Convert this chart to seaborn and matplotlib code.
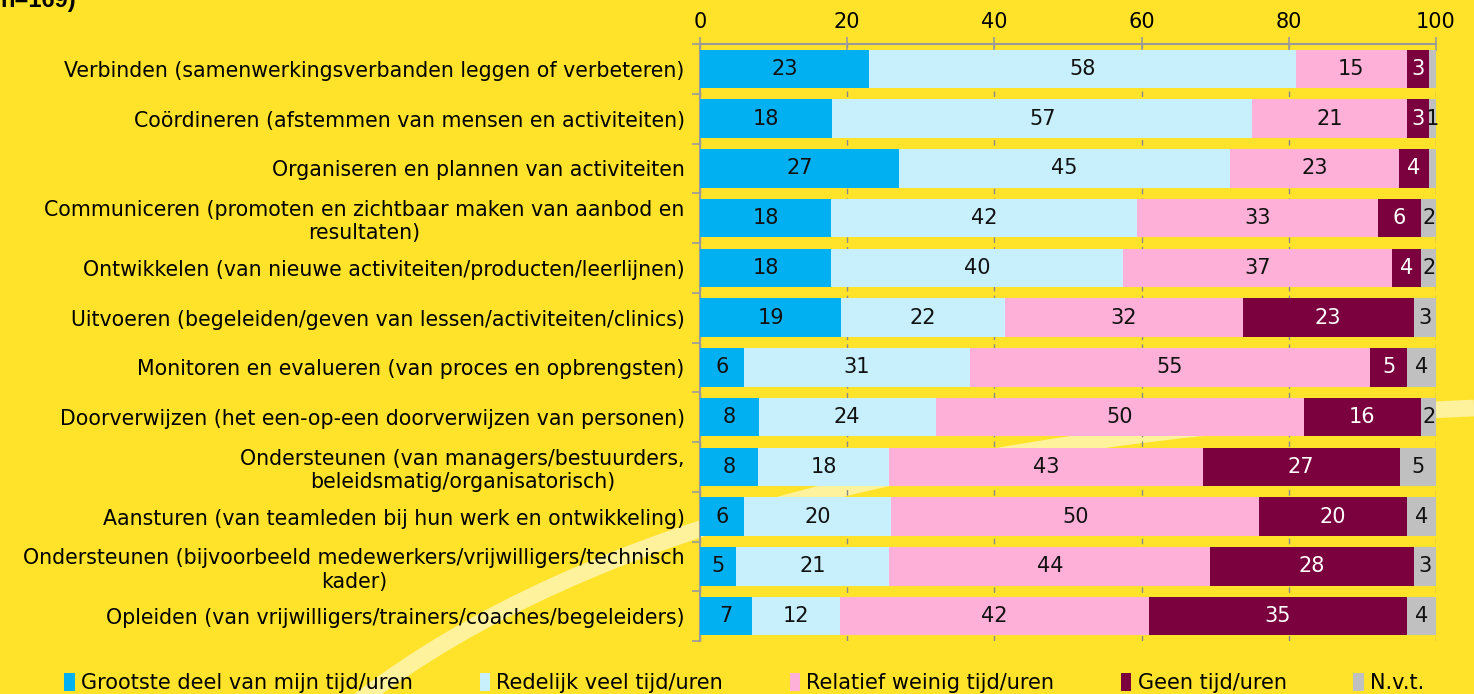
import numpy as np
import pandas as pd
import seaborn as sns
import matplotlib.pyplot as plt
from matplotlib.path import Path
from matplotlib.patches import PathPatch, Patch

# categorieen (van boven naar beneden)
taken = [
    "Verbinden (samenwerkingsverbanden leggen of verbeteren)",
    "Coördineren (afstemmen van mensen en activiteiten)",
    "Organiseren en plannen van activiteiten",
    "Communiceren (promoten en zichtbaar maken van aanbod en\nresultaten)",
    "Ontwikkelen (van nieuwe activiteiten/producten/leerlijnen)",
    "Uitvoeren (begeleiden/geven van lessen/activiteiten/clinics)",
    "Monitoren en evalueren (van proces en opbrengsten)",
    "Doorverwijzen (het een-op-een doorverwijzen van personen)",
    "Ondersteunen (van managers/bestuurders,\nbeleidsmatig/organisatorisch)",
    "Aansturen (van teamleden bij hun werk en ontwikkeling)",
    "Ondersteunen (bijvoorbeeld medewerkers/vrijwilligers/technisch\nkader)",
    "Opleiden (van vrijwilligers/trainers/coaches/begeleiders)",
]

grootste = [23, 18, 27, 18, 18, 19, 6, 8, 8, 6, 5, 7]
redelijk = [58, 57, 45, 42, 40, 22, 31, 24, 18, 20, 21, 12]
weinig = [15, 21, 23, 33, 37, 32, 55, 50, 43, 50, 44, 42]
geen = [3, 3, 4, 6, 4, 23, 5, 16, 27, 20, 28, 35]
nvt = [1, 1, 1, 2, 2, 3, 4, 2, 5, 4, 3, 4]
nvt_label = ["", "1", "", "2", "2", "3", "4", "2", "5", "4", "3", "4"]

reeksen = ["Grootste deel van mijn tijd/uren", "Redelijk veel tijd/uren",
           "Relatief weinig tijd/uren", "Geen tijd/uren", "N.v.t."]
kleuren = ["#00B0F0", "#C8EFFC", "#FFB0D9", "#7A003E", "#C0C0C0"]
tekstkleur = ["#111111", "#111111", "#111111", "white", "#111111"]

geel = "#FFE32B"

df = pd.DataFrame({"taak": taken, reeksen[0]: grootste, reeksen[1]: redelijk,
                   reeksen[2]: weinig, reeksen[3]: geen, reeksen[4]: nvt})
waarden = df[reeksen].astype(float)
# afgeronde percentages, per rij herschaald naar 100
waarden = waarden.div(waarden.sum(axis=1), axis=0) * 100
cum = waarden.cumsum(axis=1)

fig = plt.figure(figsize=(14.74, 6.94), dpi=100, facecolor=geel)

# lichte zwaai op de achtergrond
P0 = (360 / 1474, 1 - 700 / 694)
P1 = (700 / 1474, 1 - 440 / 694)
P2 = (1474 / 1474, 1 - 408 / 694)
zwaai = PathPatch(Path([P0, P1, P2], [Path.MOVETO, Path.CURVE3, Path.CURVE3]),
                  facecolor="none", edgecolor="#FFF29C", lw=12,
                  transform=fig.transFigure, zorder=-1)
fig.add_artist(zwaai)

ax = fig.add_axes([700 / 1474, 1 - 641 / 694, 736 / 1474, 597 / 694])
ax.set_facecolor("none")

# gestapelde balken: cumulatieve totalen over elkaar heen, van lang naar kort
for i in range(len(reeksen) - 1, -1, -1):
    sns.barplot(x=cum[reeksen[i]], y=df["taak"], orient="h", color=kleuren[i],
                saturation=1, width=0.77, ax=ax, zorder=3)

# waarden in de balken
for i, reeks in enumerate(reeksen):
    for j in range(len(taken)):
        v = waarden.loc[j, reeks]
        lab = nvt_label[j] if reeks == "N.v.t." else str(df.loc[j, reeks])
        if lab == "":
            continue
        ax.text(cum.loc[j, reeks] - v / 2, j, lab, ha="center", va="center",
                color=tekstkleur[i], fontsize=15, zorder=5)

ax.set_xlim(0, 100)
ax.set_ylim(len(taken) - 0.5, -0.5)
ax.set_xlabel("")
ax.set_ylabel("")

ax.xaxis.tick_top()
ax.set_xticks(range(0, 101, 20))
ax.tick_params(axis="x", direction="inout", length=10, width=1.2, color="#9A9A9A",
               labelsize=15, pad=4)
ax.grid(axis="x", color="#8A8A8A", linestyle=(0, (4, 3)), lw=1, zorder=1)
ax.set_axisbelow(True)

ax.set_yticks(range(len(taken)))
ax.set_yticklabels(taken, fontsize=14.8, multialignment="center")
ax.set_yticks(np.arange(-0.5, len(taken), 1), minor=True)
ax.tick_params(axis="y", which="major", length=0, pad=11)
ax.tick_params(axis="y", which="minor", length=6, width=1.2, color="#9A9A9A")

for kant in ["right", "bottom"]:
    ax.spines[kant].set_visible(False)
for kant in ["top", "left"]:
    ax.spines[kant].set_color("#9A9A9A")
    ax.spines[kant].set_linewidth(1.5)

# legenda onderaan
handles = [Patch(facecolor=k, edgecolor="none") for k in kleuren]
fig.legend(handles, reeksen, loc="center", bbox_to_anchor=(0.505, 1 - 683 / 694),
           ncol=5, frameon=False, handlelength=0.5, handleheight=1.0,
           handletextpad=0.3, columnspacing=3.2, fontsize=15)

# stukje van de titel, bovenaan afgesneden
fig.text(0.0, 1 - 7 / 694, "n=169)", fontsize=17, fontweight="bold",
         family="Liberation Sans", va="baseline", ha="left")

fig.savefig("out.png", dpi=100, facecolor=geel)
